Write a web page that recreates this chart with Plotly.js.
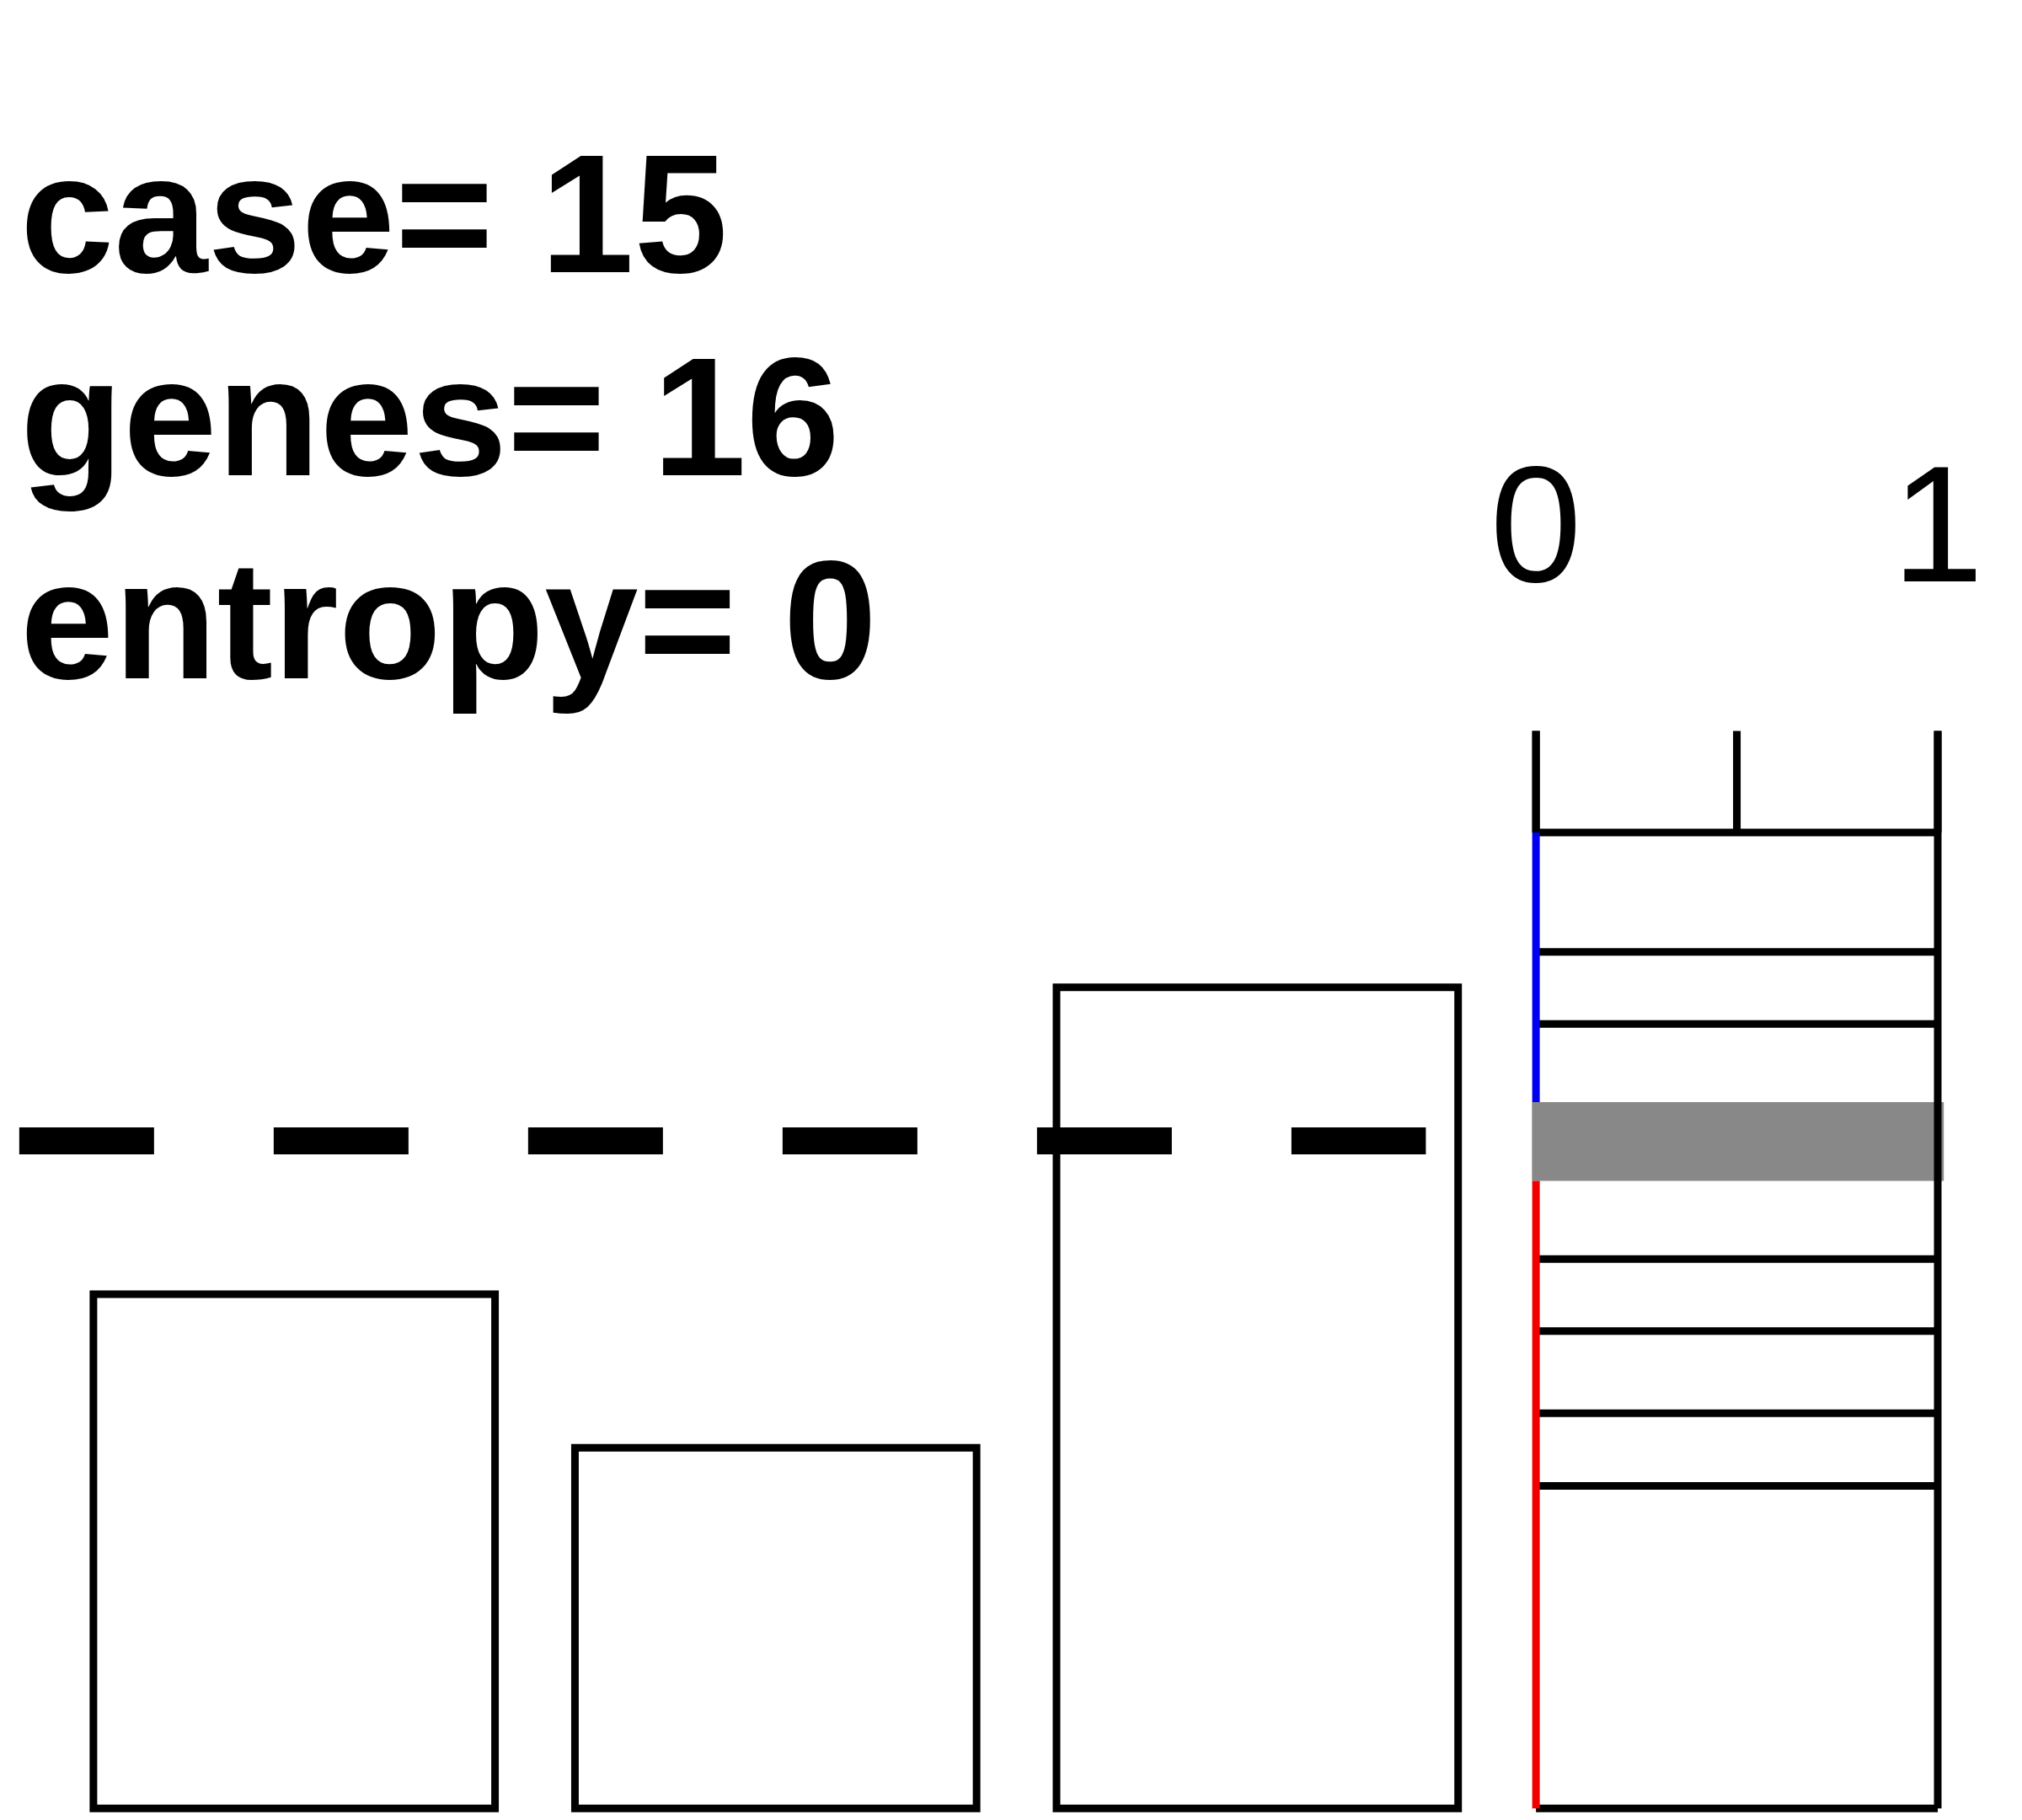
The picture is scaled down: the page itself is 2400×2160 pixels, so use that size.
<!DOCTYPE html>
<html>
<head>
<meta charset="utf-8">
<script src="https://cdn.plot.ly/plotly-3.0.1.min.js"></script>
<style>body{margin:0;background:#fff}</style>
</head>
<body>
<div id="chart"></div>
<script>
// bar heights relative to the threshold (dashed line = 1)
const barPos = [0, 1, 2];
const barHeights = [0.77, 0.54, 1.23];
const threshold = 1;

// right panel: horizontal level lines and the grey band
const levelLines = [1.462, 1.283, 1.175, 0.823, 0.715, 0.592, 0.483];
const bandLow = 0.94, bandHigh = 1.058;
const panelTop = 1.614;
const tickVals = [0, 0.5, 1];
const tickText = ['0', '', '1'];

const info = ['case= 15', 'genes= 16', 'entropy= 0'];

const traces = [];
traces.push({
  type: 'bar', x: barPos, y: barHeights, width: 0.834,
  marker: {color: 'rgba(0,0,0,0)', line: {color: '#000', width: 9}},
  hoverinfo: 'none'
});
traces.push({
  type: 'scatter', mode: 'lines', x: [-0.571, 2.35], y: [threshold, threshold],
  line: {color: '#000', width: 32, dash: '160px,142px'}
});
// grey band
traces.push({
  type: 'scatter', mode: 'lines', xaxis: 'x2', fill: 'toself', fillcolor: '#888',
  x: [-0.01, 1.015, 1.015, -0.01, -0.01], y: [bandLow, bandLow, bandHigh, bandHigh, bandLow],
  line: {width: 0}
});
levelLines.concat([0]).forEach(v => traces.push({
  type: 'scatter', mode: 'lines', xaxis: 'x2', x: [0, 1], y: [v, v],
  line: {color: '#000', width: 9}
}));
// verticals
traces.push({type: 'scatter', mode: 'lines', xaxis: 'x2', x: [1, 1], y: [0, panelTop], line: {color: '#000', width: 9}});
traces.push({type: 'scatter', mode: 'lines', xaxis: 'x2', x: [0, 0], y: [levelLines[0], panelTop], line: {color: '#000', width: 9}});
traces.push({type: 'scatter', mode: 'lines', xaxis: 'x2', x: [0, 0], y: [bandHigh, levelLines[0]], line: {color: '#0000ee', width: 9}});
traces.push({type: 'scatter', mode: 'lines', xaxis: 'x2', x: [0, 0], y: [0, bandLow], line: {color: '#ee0000', width: 9}});
tickVals.forEach(v => traces.push({
  type: 'scatter', mode: 'lines', xaxis: 'x2', x: [v, v], y: [levelLines[0], panelTop],
  line: {color: '#000', width: 9}
}));
traces.push({
  type: 'scatter', mode: 'text', xaxis: 'x2', x: tickVals, y: [1.9, 1.9, 1.9], text: tickText,
  textfont: {family: 'Liberation Sans, Arial', size: 196, color: '#000'}
});

const annotations = info.map((t, i) => ({
  xref: 'paper', yref: 'paper', x: 0.009, y: 1 - (165 + i * 156.5) / 1404,
  xanchor: 'left', yanchor: 'middle', showarrow: false, text: '<b>' + t + '</b>',
  font: {family: 'Liberation Sans, Arial', size: 200, color: '#000'}
}));

const layout = {
  width: 2400, height: 2160, margin: {l: 0, r: 0, t: 0, b: 0},
  showlegend: false, paper_bgcolor: '#fff', plot_bgcolor: '#fff',
  xaxis: {range: [-0.611, 3.588], visible: false, fixedrange: true},
  xaxis2: {range: [-3.823, 1.2097], overlaying: 'x', visible: false},
  yaxis: {range: [-0.0175, 2.709], visible: false},
  annotations: annotations
};
Plotly.newPlot('chart', traces, layout, {staticPlot: true});
</script>
</body>
</html>
